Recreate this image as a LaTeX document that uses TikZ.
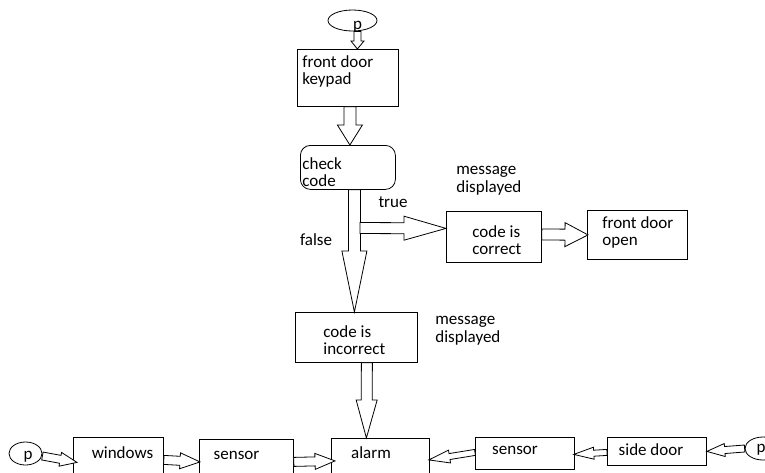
\documentclass[tikz,border=0pt]{standalone}
\usepackage{fontspec}
\setmainfont{Carlito}
\usetikzlibrary{calc,shapes.geometric}
\newcommand\blockarrow[5]{%
 \draw[barrow] let \p1=#1, \p2=#2,
   \n1={atan2(\y2-\y1,\x2-\x1)},
   \n2={veclen(\x2-\x1,\y2-\y1)-#5pt} in
   ($(\p1)+({\n1-90}:#3pt)$) --
   ($(\p1)+({\n1}:{\n2})+({\n1-90}:#3pt)$) --
   ($(\p1)+({\n1}:{\n2})+({\n1-90}:#4pt)$) --
   (\p2) --
   ($(\p1)+({\n1}:{\n2})+({\n1+90}:#4pt)$) --
   ($(\p1)+({\n1}:{\n2})+({\n1+90}:#3pt)$) --
   ($(\p1)+({\n1+90}:#3pt)$) -- cycle;}
\begin{document}
\begin{tikzpicture}[x=1pt,y=-1pt,line width=0.8pt,
  box/.style={draw,rectangle,inner sep=0pt,anchor=north west},
  rbox/.style={box,rounded corners=10pt},
  oval/.style={draw,ellipse,inner sep=0pt},
  txt/.style={font=\fontsize{17}{17.5}\selectfont,inner sep=0pt,align=left},
  barrow/.style={draw,fill=white,line width=0.8pt,line join=miter}]
\useasboundingbox (0,0) rectangle (765,472);
\clip (0,0) rectangle (765,472);
\fill[white] (0,0) rectangle (765,472);

% top oval
\node[oval,minimum width=49pt,minimum height=21pt] (pA) at (352.5,20.5) {};
\node[txt,anchor=base] (pAt) at (357.5,29.5) {p};
% boxes
\node[box,minimum width=101pt,minimum height=57pt] (kp) at (297,49) {};
\node[txt,anchor=north west] (kpt) at (302,55) {front door\\keypad};
\node[rbox,minimum width=95pt,minimum height=44pt] (cc) at (300,145) {};
\node[txt,anchor=north west] (cct) at (302,157) {check\\code};
\node[box,minimum width=95pt,minimum height=51pt] (cor) at (446,211) {};
\node[txt,anchor=north west] (cort) at (472,225) {code is\\correct};
\node[box,minimum width=100pt,minimum height=49pt] (fdo) at (587,210) {};
\node[txt,anchor=north west] (fdot) at (602,216) {front door\\open};
\node[box,minimum width=122pt,minimum height=50pt] (inc) at (295,312) {};
\node[txt,anchor=north west] (inct) at (323,325) {code is\\incorrect};
\node[txt,anchor=north west] (msgA) at (456,166) {message\\displayed};
\node[txt,anchor=north west] (msgB) at (435,316) {message\\displayed};
\node[txt,anchor=base] (truet) at (393,207) {true};
\node[txt,anchor=base] (falset) at (316,245) {false};
% bottom row
\node[box,minimum width=98pt,minimum height=45pt] (alarm) at (331,438) {};
\node[txt,anchor=base] (alarmt) at (371,458) {alarm};
\node[box,minimum width=90pt,minimum height=45pt] (win) at (73,437) {};
\node[txt,anchor=base] (wint) at (122.5,458) {windows};
\node[box,minimum width=94pt,minimum height=45pt] (senA) at (199,439) {};
\node[txt,anchor=base] (senAt) at (236.5,459) {sensor};
\node[box,minimum width=99pt,minimum height=32pt] (senB) at (475,437) {};
\node[txt,anchor=base] (senBt) at (515,454) {sensor};
\node[box,minimum width=99pt,minimum height=28pt] (side) at (607,437) {};
\node[txt,anchor=base] (sidet) at (651,455) {side door};
\node[oval,minimum width=33pt,minimum height=23pt] (pB) at (25.5,453.5) {};
\node[txt,anchor=base] (pBt) at (28,459) {p};
\node[oval,minimum width=36pt,minimum height=23pt] (pC) at (763,448.5) {};
\node[txt,anchor=base] (pCt) at (761,452) {p};

% arrows
\blockarrow{([xshift=5pt]pA.south)}{([xshift=9.5pt]kp.north)}{3.5}{6.5}{8}
\blockarrow{([xshift=2pt]kp.south)}{([xshift=2pt]cc.north)}{6}{12.5}{20}
\blockarrow{([xshift=6.5pt]cc.south)}{([xshift=-2pt]inc.north)}{6}{12.5}{61}
\coordinate (tstart) at (360,228);
\blockarrow{(tstart)}{([yshift=8.5pt]cor.west)}{5.5}{12}{42}
\blockarrow{([yshift=2.5pt]cor.east)}{([xshift=1pt]fdo.west)}{5.5}{12}{23}
\blockarrow{([xshift=10.5pt]inc.south)}{([xshift=-14pt]alarm.north)}{5.5}{10.5}{38}
\blockarrow{([yshift=-2.5pt]pB.east)}{([xshift=4pt,yshift=-2.5pt]win.west)}{4}{7}{17}
\blockarrow{(win.east)}{([xshift=1pt]senA.west)}{4.5}{8}{20}
\blockarrow{(senA.east)}{([xshift=4pt]alarm.west)}{4.5}{8}{20}
\blockarrow{([yshift=1pt]senB.west)}{([yshift=1pt,xshift=-1pt]alarm.east)}{3}{6.5}{21}
\blockarrow{([yshift=-1pt]side.west)}{([yshift=-1pt,xshift=-1pt]senB.east)}{3}{6}{20}
\blockarrow{(pC.west)}{(side.east)}{3.5}{6.5}{18}
\end{tikzpicture}
\end{document}
